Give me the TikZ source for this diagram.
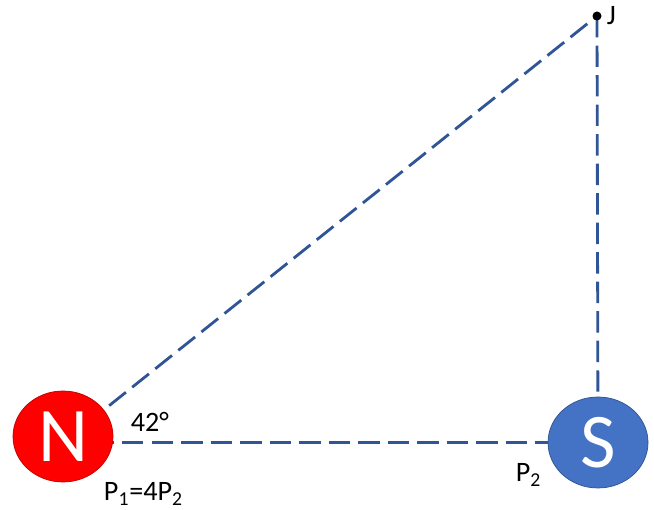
\documentclass[tikz,border=0pt]{standalone}
\usepackage{fontspec}
\setmainfont{Carlito}
\usepackage{xcolor}
\usetikzlibrary{shapes.geometric}

\definecolor{linea}{RGB}{47,85,151}
\definecolor{rojo}{RGB}{255,0,0}
\definecolor{rojoborde}{RGB}{192,0,0}
\definecolor{azul}{RGB}{68,114,196}
\definecolor{azulborde}{RGB}{47,82,143}

\begin{document}
\begin{tikzpicture}[font=\fontsize{16}{19}\selectfont,
    linea/.style={draw=linea, line width=1.6pt, dash pattern=on 12.2pt off 4.6pt},
    polo/.style={ellipse, minimum width=2cm, minimum height=1.82cm, inner sep=0pt, text=white, font=\fontsize{44}{50}\selectfont},
    etiqueta/.style={anchor=base, inner sep=0pt}]
    \useasboundingbox (0,0) rectangle (13.08,10.2);

    \coordinate (n) at (1.26,1.47);
    \coordinate (s) at (11.96,1.35);
    \coordinate (J) at (11.94,9.88);
    \coordinate (v) at (n |- s);

    \draw[linea] (v) -- (J);
    \draw[linea] (v) -- (s);
    \draw[linea] (J) -- (s);

    \node[polo, fill=rojo, draw=rojoborde] (N) at (n) {N};
    \node[polo, fill=azul, draw=azulborde] (S) at (s) {S};

    \fill (J) circle (0.09);
    \node[anchor=west, inner sep=0pt, xshift=0.19cm] (Jt) at (J) {J};

    \node[etiqueta] (ang) at (3.0,1.56) {42°};
    \node[etiqueta] (p1) at (2.87,0.18) {P\textsubscript{1}=4P\textsubscript{2}};
    \node[etiqueta] (p2) at (10.57,0.56) {P\textsubscript{2}};
\end{tikzpicture}
\end{document}
